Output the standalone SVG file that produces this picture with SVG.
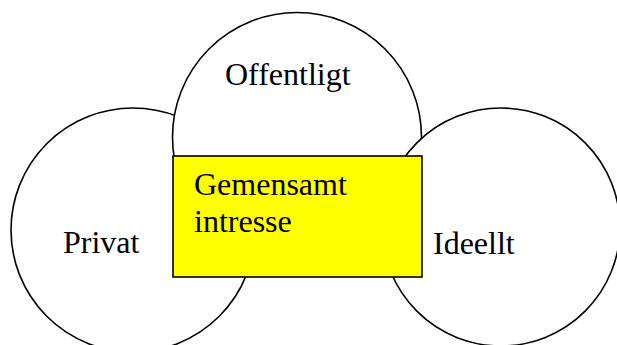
<svg xmlns="http://www.w3.org/2000/svg" width="617" height="345" viewBox="0 0 617 345">
<style>
.c{fill:#fff;stroke:#000;stroke-width:1.6}
.r{fill:#ffff00;stroke:#000;stroke-width:1.6}
.t{font-family:"Liberation Serif","Times New Roman",serif;font-size:32px;fill:#000}
</style>
<rect width="617" height="345" fill="#fff"/>
<g id="privat">
<circle class="c" cx="133" cy="230" r="122"/>
<text class="t" x="63" y="253">Privat</text>
</g>
<g id="offentligt">
<circle class="c" cx="297" cy="137" r="124.5"/>
<text class="t" x="225" y="85">Offentligt</text>
</g>
<g id="ideellt">
<circle class="c" cx="501" cy="227" r="119"/>
<text class="t" x="433" y="254">Ideellt</text>
</g>
<g id="gemensamt">
<rect class="r" x="173" y="156" width="249" height="121"/>
<text class="t" x="194" y="195">Gemensamt</text>
<text class="t" x="194" y="232">intresse</text>
</g>
<g id="connectors"/>
</svg>
